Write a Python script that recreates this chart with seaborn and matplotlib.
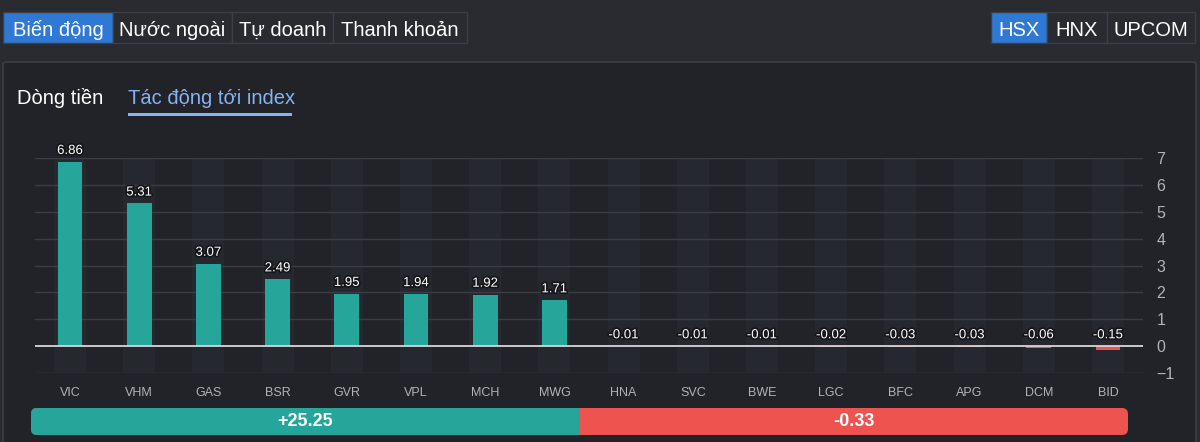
import numpy as np
import pandas as pd
import matplotlib
matplotlib.use("Agg")
import matplotlib.pyplot as plt
import matplotlib.patheffects as pe
from matplotlib.patches import FancyBboxPatch, Rectangle
import seaborn as sns

# ---- data ----
tickers = ["VIC", "VHM", "GAS", "BSR", "GVR", "VPL", "MCH", "MWG",
           "HNA", "SVC", "BWE", "LGC", "BFC", "APG", "DCM", "BID"]
impact = [6.86, 5.31, 3.07, 2.49, 1.95, 1.94, 1.92, 1.71,
          -0.01, -0.01, -0.01, -0.02, -0.03, -0.03, -0.06, -0.15]
total_up = 25.25
total_down = -0.33
y_ticks = [-1, 0, 1, 2, 3, 4, 5, 6, 7]

main_tabs = ["Biến động", "Nước ngoài", "Tự doanh", "Thanh khoản"]
exch_tabs = ["HSX", "HNX", "UPCOM"]
sub_tabs = ["Dòng tiền", "Tác động tới index"]

# ---- style ----
UP = "#26a69a"
DOWN = "#ef5350"
BG = "#292b31"
PANEL = "#212329"
BORDER = "#3c3f46"
BLUE = "#2f78d3"
GRID = "#3a3d44"
MUTED = "#b0b3b9"

sns.set_theme(style="dark")
plt.rcParams["font.family"] = ["Liberation Sans", "DejaVu Sans"]

W, H = 1200, 442
fig = plt.figure(figsize=(W / 100, H / 100), dpi=100, facecolor=BG)


def fx(px):
    return px / W


def fy(py):
    return 1 - py / H


# panel
fig.patches.append(FancyBboxPatch((fx(3), fy(470)), fx(1193), fy(62) - fy(470),
                                  boxstyle="round,pad=0,rounding_size=0.004",
                                  transform=fig.transFigure, facecolor=PANEL,
                                  edgecolor=BORDER, lw=1.2, zorder=-5))

# tabs
def draw_tabs(labels, edges, active):
    for i, lab in enumerate(labels):
        x0, x1 = edges[i], edges[i + 1]
        fc = BLUE if i == active else BG
        fig.patches.append(Rectangle((fx(x0), fy(43)), fx(x1 - x0), fy(12) - fy(43),
                                     transform=fig.transFigure, facecolor=fc,
                                     edgecolor=BORDER, lw=1, zorder=1))
        fig.text(fx((x0 + x1) / 2), fy(30), lab, ha="center", va="center",
                 color="white", fontsize=14.5, zorder=2)


draw_tabs(main_tabs, [3, 113, 232, 333, 467], 0)
draw_tabs(exch_tabs, [991, 1047, 1107, 1195], 0)

fig.text(fx(17), fy(98), sub_tabs[0], ha="left", va="center", color="white", fontsize=14.5)
fig.text(fx(128), fy(98), sub_tabs[1], ha="left", va="center", color="#86b3f2", fontsize=14.5)
fig.patches.append(Rectangle((fx(128), fy(116)), fx(164), fy(113) - fy(116),
                             transform=fig.transFigure, facecolor="#86b3f2",
                             edgecolor="none", zorder=2))

# ---- bar chart ----
ax = fig.add_axes([fx(35.4), fy(373), fx(1107.2), fy(158) - fy(373)], zorder=1)
ax.set_facecolor(PANEL)
df = pd.DataFrame({"ticker": tickers, "impact": impact})
colors = [UP if v >= 0 else DOWN for v in impact]

# faint column band behind each category
for i in range(len(tickers)):
    ax.axvspan(i - 0.23, i + 0.23, color="#26282f", zorder=0, lw=0)

for yt in y_ticks:
    if yt != 0:
        ax.axhline(yt, color=GRID, lw=1, zorder=1)
ax.axhline(0, color="#d6d7da", lw=1.3, zorder=3)

sns.barplot(data=df, x="ticker", y="impact", hue="ticker", palette=colors,
            legend=False, width=0.36, ax=ax, zorder=2, edgecolor="none", saturation=1)

for i, v in enumerate(impact):
    ax.text(i, max(v, 0) + 0.18, f"{v:.2f}", ha="center", va="bottom",
            color="white", fontsize=9.5, zorder=4,
            path_effects=[pe.withStroke(linewidth=2.5, foreground="#15161a")])

ax.set_xlim(-0.5, len(tickers) - 0.5)
ax.set_ylim(-1, 7)
ax.set_yticks(y_ticks)
ax.yaxis.tick_right()
ax.tick_params(axis="y", colors=MUTED, labelsize=11.5, length=0, pad=10)
ax.tick_params(axis="x", colors=MUTED, labelsize=9, length=0, pad=10)
ax.set_xlabel("")
ax.set_ylabel("")
ax.grid(False)
for s in ax.spines.values():
    s.set_visible(False)

# ---- summary bar ----
bx0, bx1, by0, by1 = 31, 1128, 408, 435
mid = (bx0 + bx1) / 2
fig.patches.append(FancyBboxPatch((fx(bx0), fy(by1)), fx(bx1 - bx0), fy(by0) - fy(by1),
                                  boxstyle="round,pad=0,rounding_size=0.005",
                                  transform=fig.transFigure, facecolor=DOWN,
                                  edgecolor="none", zorder=1,
                                  mutation_aspect=W / H))
fig.patches.append(FancyBboxPatch((fx(bx0), fy(by1)), fx(mid - bx0), fy(by0) - fy(by1),
                                  boxstyle="round,pad=0,rounding_size=0.005",
                                  transform=fig.transFigure, facecolor=UP,
                                  edgecolor="none", zorder=2,
                                  mutation_aspect=W / H))
fig.patches.append(Rectangle((fx(mid - 10), fy(by1)), fx(10), fy(by0) - fy(by1),
                             transform=fig.transFigure, facecolor=UP,
                             edgecolor="none", zorder=2))
fig.text(fx((bx0 + mid) / 2), fy((by0 + by1) / 2), f"+{total_up:.2f}", ha="center",
         va="center", color="white", fontsize=13, fontweight="bold", zorder=3)
fig.text(fx((mid + bx1) / 2), fy((by0 + by1) / 2), f"{total_down:.2f}", ha="center",
         va="center", color="white", fontsize=13, fontweight="bold", zorder=3)

fig.savefig("out.png", dpi=100, facecolor=BG)
